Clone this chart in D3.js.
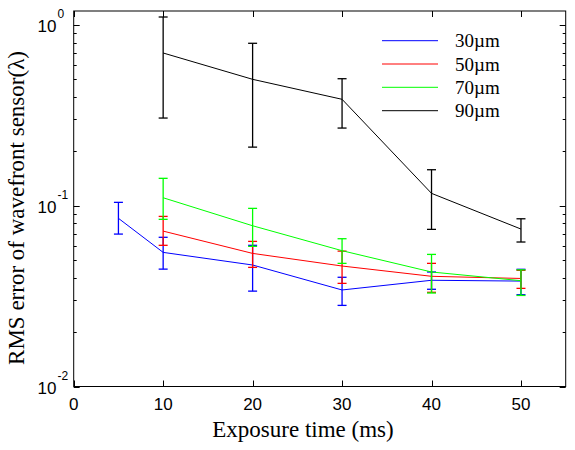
<!DOCTYPE html>
<html>
<head>
<meta charset="utf-8">
<script src="https://cdn.jsdelivr.net/npm/d3@7"></script>
<style>
  html, body { margin: 0; padding: 0; background: #fff; }
  svg { display: block; }
</style>
</head>
<body>
<svg id="chart" width="575" height="450"></svg>
<script>
// ---- data ----
const seriesNames = ["30\u00b5m", "50\u00b5m", "70\u00b5m", "90\u00b5m"];
const seriesColors = ["#0000ff", "#ff0000", "#00ff00", "#000000"];

const x30 = [5, 10, 20, 30, 40, 50];
const y30 = [0.0852, 0.0552, 0.0470, 0.0342, 0.0387, 0.0383];
const hi30 = [0.1044, 0.0669, 0.0604, 0.0402, 0.0430, 0.0445];
const lo30 = [0.0697, 0.0446, 0.0337, 0.0281, 0.0345, 0.0322];

const x50 = [10, 20, 30, 40, 50];
const y50 = [0.0724, 0.0545, 0.0464, 0.0407, 0.0396];
const hi50 = [0.0873, 0.0635, 0.0561, 0.0480, 0.0439];
const lo50 = [0.0604, 0.0456, 0.0372, 0.0332, 0.0349];

const x70 = [10, 20, 30, 40, 50];
const y70 = [0.1107, 0.0775, 0.0564, 0.0430, 0.0385];
const hi70 = [0.1418, 0.0967, 0.0657, 0.0538, 0.0442];
const lo70 = [0.0841, 0.0596, 0.0480, 0.0329, 0.0319];

const x90 = [10, 20, 30, 40, 50];
const y90 = [0.700, 0.5005, 0.388, 0.1171, 0.0743];
const hi90 = [1.107, 0.792, 0.5044, 0.1582, 0.0847];
const lo90 = [0.3056, 0.211, 0.269, 0.074, 0.063];

const xTicks = [0, 10, 20, 30, 40, 50];
const yMajor = [0.01, 0.1, 1];
const yExp = ["-2", "-1", "0"];
const xLabel = "Exposure time (ms)";
const yLabel = "RMS error of wavefront sensor(\u03bb)";

// ---- layout ----
const L = 73.7, R = 565.7, T = 11, B = 386.5;
const svg = d3.select("#chart");
const x = d3.scaleLinear().domain([0, 55]).range([L, R]);
const y = d3.scaleLog().domain([0.01, 1.195]).range([B, T]);

const series = [
  {x: x30, y: y30, hi: hi30, lo: lo30},
  {x: x50, y: y50, hi: hi50, lo: lo50},
  {x: x70, y: y70, hi: hi70, lo: lo70},
  {x: x90, y: y90, hi: hi90, lo: lo90}
];

// frame
svg.append("rect").attr("x", L).attr("y", T).attr("width", R - L).attr("height", B - T)
  .attr("fill", "none").attr("stroke", "#000").attr("stroke-width", 1);

// minor y ticks
const minor = [];
[0.01, 0.1].forEach(d => { for (let k = 2; k <= 9; k++) minor.push(d * k); });
const tickG = svg.append("g").attr("stroke", "#000").attr("stroke-width", 1);
minor.forEach(v => {
  const yy = Math.round(y(v)) + 0.5;
  if (yy < T || yy > B) return;
  tickG.append("line").attr("x1", L).attr("x2", L + 3).attr("y1", yy).attr("y2", yy);
  tickG.append("line").attr("x1", R).attr("x2", R - 3).attr("y1", yy).attr("y2", yy);
});
yMajor.forEach(v => {
  const yy = Math.round(y(v)) + 0.5;
  tickG.append("line").attr("x1", L).attr("x2", L + 6).attr("y1", yy).attr("y2", yy);
  tickG.append("line").attr("x1", R).attr("x2", R - 6).attr("y1", yy).attr("y2", yy);
});
xTicks.forEach(v => {
  const xx = Math.round(x(v)) + 0.5;
  tickG.append("line").attr("x1", xx).attr("x2", xx).attr("y1", B).attr("y2", B - 6);
  tickG.append("line").attr("x1", xx).attr("x2", xx).attr("y1", T).attr("y2", T + 6);
});

// tick labels
const sans = "'Liberation Sans', Arial, Helvetica, sans-serif";
const serif = "'Liberation Serif', 'Times New Roman', Times, serif";
xTicks.forEach(v => {
  svg.append("text").attr("x", x(v)).attr("y", 410)
    .attr("text-anchor", "middle").attr("font-family", sans).attr("font-size", 17)
    .text(v);
});
yMajor.forEach((v, i) => {
  const yy = y(v);
  svg.append("text").attr("x", 56.5).attr("y", yy + 7.5)
    .attr("text-anchor", "end").attr("font-family", sans).attr("font-size", 17).text("10");
  svg.append("text").attr("x", 57.5).attr("y", yy - 6.5)
    .attr("text-anchor", "start").attr("font-family", sans).attr("font-size", 12).text(yExp[i]);
});

// axis labels
svg.append("text").attr("x", 303).attr("y", 437).attr("text-anchor", "middle")
  .attr("font-family", serif).attr("font-size", 23).text(xLabel);
svg.append("text").attr("transform", "translate(24,208) rotate(-90)").attr("text-anchor", "middle")
  .attr("font-family", serif).attr("font-size", 23).text(yLabel);

// data
const line = d3.line().x(d => x(d[0])).y(d => y(d[1]));
series.forEach((s, i) => {
  const g = svg.append("g").attr("stroke", seriesColors[i]).attr("fill", "none").attr("stroke-width", 1);
  const pts = s.x.map((xv, j) => [xv, s.y[j]]);
  g.append("path").attr("d", line(pts));
  s.x.forEach((xv, j) => {
    const xx = x(xv), cw = 4.5;
    g.append("line").attr("x1", xx).attr("x2", xx).attr("y1", y(s.hi[j])).attr("y2", y(s.lo[j]))
      .attr("stroke-width", 1.3);
    g.append("line").attr("x1", xx - cw).attr("x2", xx + cw).attr("y1", y(s.hi[j])).attr("y2", y(s.hi[j]))
      .attr("stroke-width", 1.3);
    g.append("line").attr("x1", xx - cw).attr("x2", xx + cw).attr("y1", y(s.lo[j])).attr("y2", y(s.lo[j]))
      .attr("stroke-width", 1.3);
  });
});

// legend
const legY = [40.7, 64, 87.3, 110.7];
seriesNames.forEach((n, i) => {
  svg.append("line").attr("x1", 382).attr("x2", 438).attr("y1", legY[i]).attr("y2", legY[i])
    .attr("stroke", seriesColors[i]).attr("stroke-width", 1);
  svg.append("text").attr("x", 455).attr("y", legY[i] + 6.5).attr("font-family", serif)
    .attr("font-size", 19).text(n);
});
</script>
</body>
</html>
